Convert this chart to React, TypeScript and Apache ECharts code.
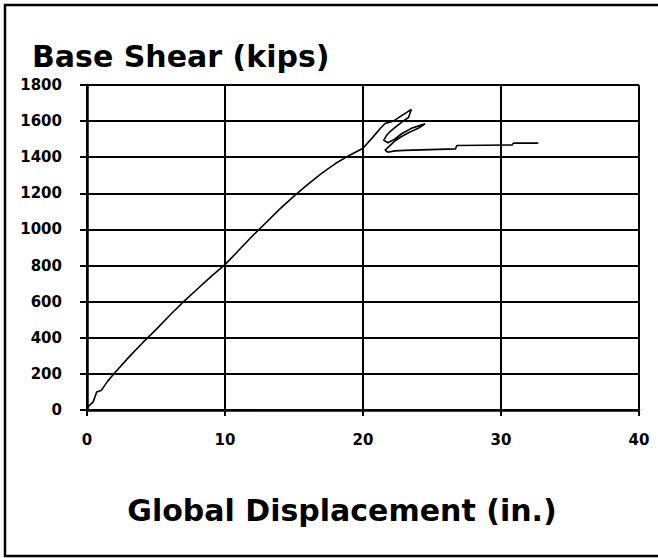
import { useEffect, useRef } from "react";
import * as echarts from "echarts";

const chartTitle = "Base Shear (kips)";
const xAxisTitle = "Global Displacement (in.)";
const xMin = 0;
const xMax = 40;
const xStep = 10;
const yMin = 0;
const yMax = 1800;
const yStep = 200;

// Global displacement (in.) and base shear (kips), in path order
const displacement = [
  0, 0.1, 0.45, 0.7, 1.05, 1.5, 2.0, 3, 4, 5, 6, 7, 8, 9, 10, 11, 12, 13, 14, 15,
  16, 17, 18, 19, 20, 20.7, 21.2, 21.6, 22.2, 22.8, 23.2, 23.5, 23.3, 22.9, 22.4, 22.0, 21.7,
  21.5, 21.8, 22.3, 22.8, 23.5, 24.1, 24.5, 24.0, 23.4, 22.8, 22.3, 21.9, 21.6, 21.8, 22.3,
  23.0, 26.7, 26.8, 30.8, 30.9, 32.7,
];
const baseShear = [
  0, 20, 45, 100, 110, 160, 205, 290, 370, 445, 525, 600, 670, 740, 805, 885, 965,
  1040, 1115, 1185, 1250, 1310, 1365, 1410, 1450, 1510, 1555, 1587, 1600, 1630, 1650, 1665,
  1620, 1600, 1570, 1545, 1520, 1495, 1480, 1500, 1530, 1560, 1575, 1585, 1560, 1540, 1515,
  1490, 1460, 1440, 1428, 1435, 1438, 1446, 1465, 1468, 1478, 1478,
];

const points = displacement.map((d, i) => [d, baseShear[i]]);

export default function App() {
  const ref = useRef<HTMLDivElement>(null);
  useEffect(() => {
    document.body.style.margin = "0";
    const chart = echarts.init(ref.current!, null, { renderer: "svg" });
    const labelStyle = {
      color: "#000",
      fontFamily: "DejaVu Sans",
      fontWeight: "bold" as const,
      fontSize: 15,
    };
    chart.setOption({
      animation: false,
      backgroundColor: "#fff",
      grid: { left: 87, right: 19, top: 85, bottom: 148, containLabel: false },
      xAxis: {
        type: "value",
        min: xMin,
        max: xMax,
        interval: xStep,
        axisLine: { show: true, onZero: false, lineStyle: { color: "#000", width: 2.5 } },
        axisTick: { show: true, inside: false, length: 6, lineStyle: { color: "#000", width: 2 } },
        axisLabel: { ...labelStyle, margin: 22, formatter: (v: number) => String(v) },
        splitLine: { show: true, lineStyle: { color: "#000", width: 2 } },
      },
      yAxis: {
        type: "value",
        min: yMin,
        max: yMax,
        interval: yStep,
        axisLine: { show: true, onZero: false, lineStyle: { color: "#000", width: 2.5 } },
        axisTick: { show: true, inside: false, length: 7, lineStyle: { color: "#000", width: 2 } },
        axisLabel: { ...labelStyle, margin: 25, formatter: (v: number) => String(v) },
        splitLine: { show: true, lineStyle: { color: "#000", width: 2 } },
      },
      series: [
        {
          type: "line",
          data: points,
          showSymbol: false,
          symbol: "none",
          lineStyle: { color: "#000", width: 1.6 },
          z: 5,
        },
      ],
      graphic: [
        {
          type: "rect",
          shape: { x: 5, y: 5, width: 665, height: 551 },
          style: { fill: "none", stroke: "#000", lineWidth: 2.5 },
          silent: true,
        },
        {
          type: "text",
          x: 32,
          y: 56,
          style: {
            text: chartTitle,
            fill: "#000",
            font: "bold 30px 'DejaVu Sans'",
            textAlign: "left",
            textVerticalAlign: "middle",
          },
        },
        {
          type: "text",
          x: 342,
          y: 510,
          style: {
            text: xAxisTitle,
            fill: "#000",
            font: "bold 30px 'DejaVu Sans'",
            textAlign: "center",
            textVerticalAlign: "middle",
          },
        },
      ],
    });
    return () => chart.dispose();
  }, []);
  return <div ref={ref} style={{ width: 658, height: 558 }} />;
}
